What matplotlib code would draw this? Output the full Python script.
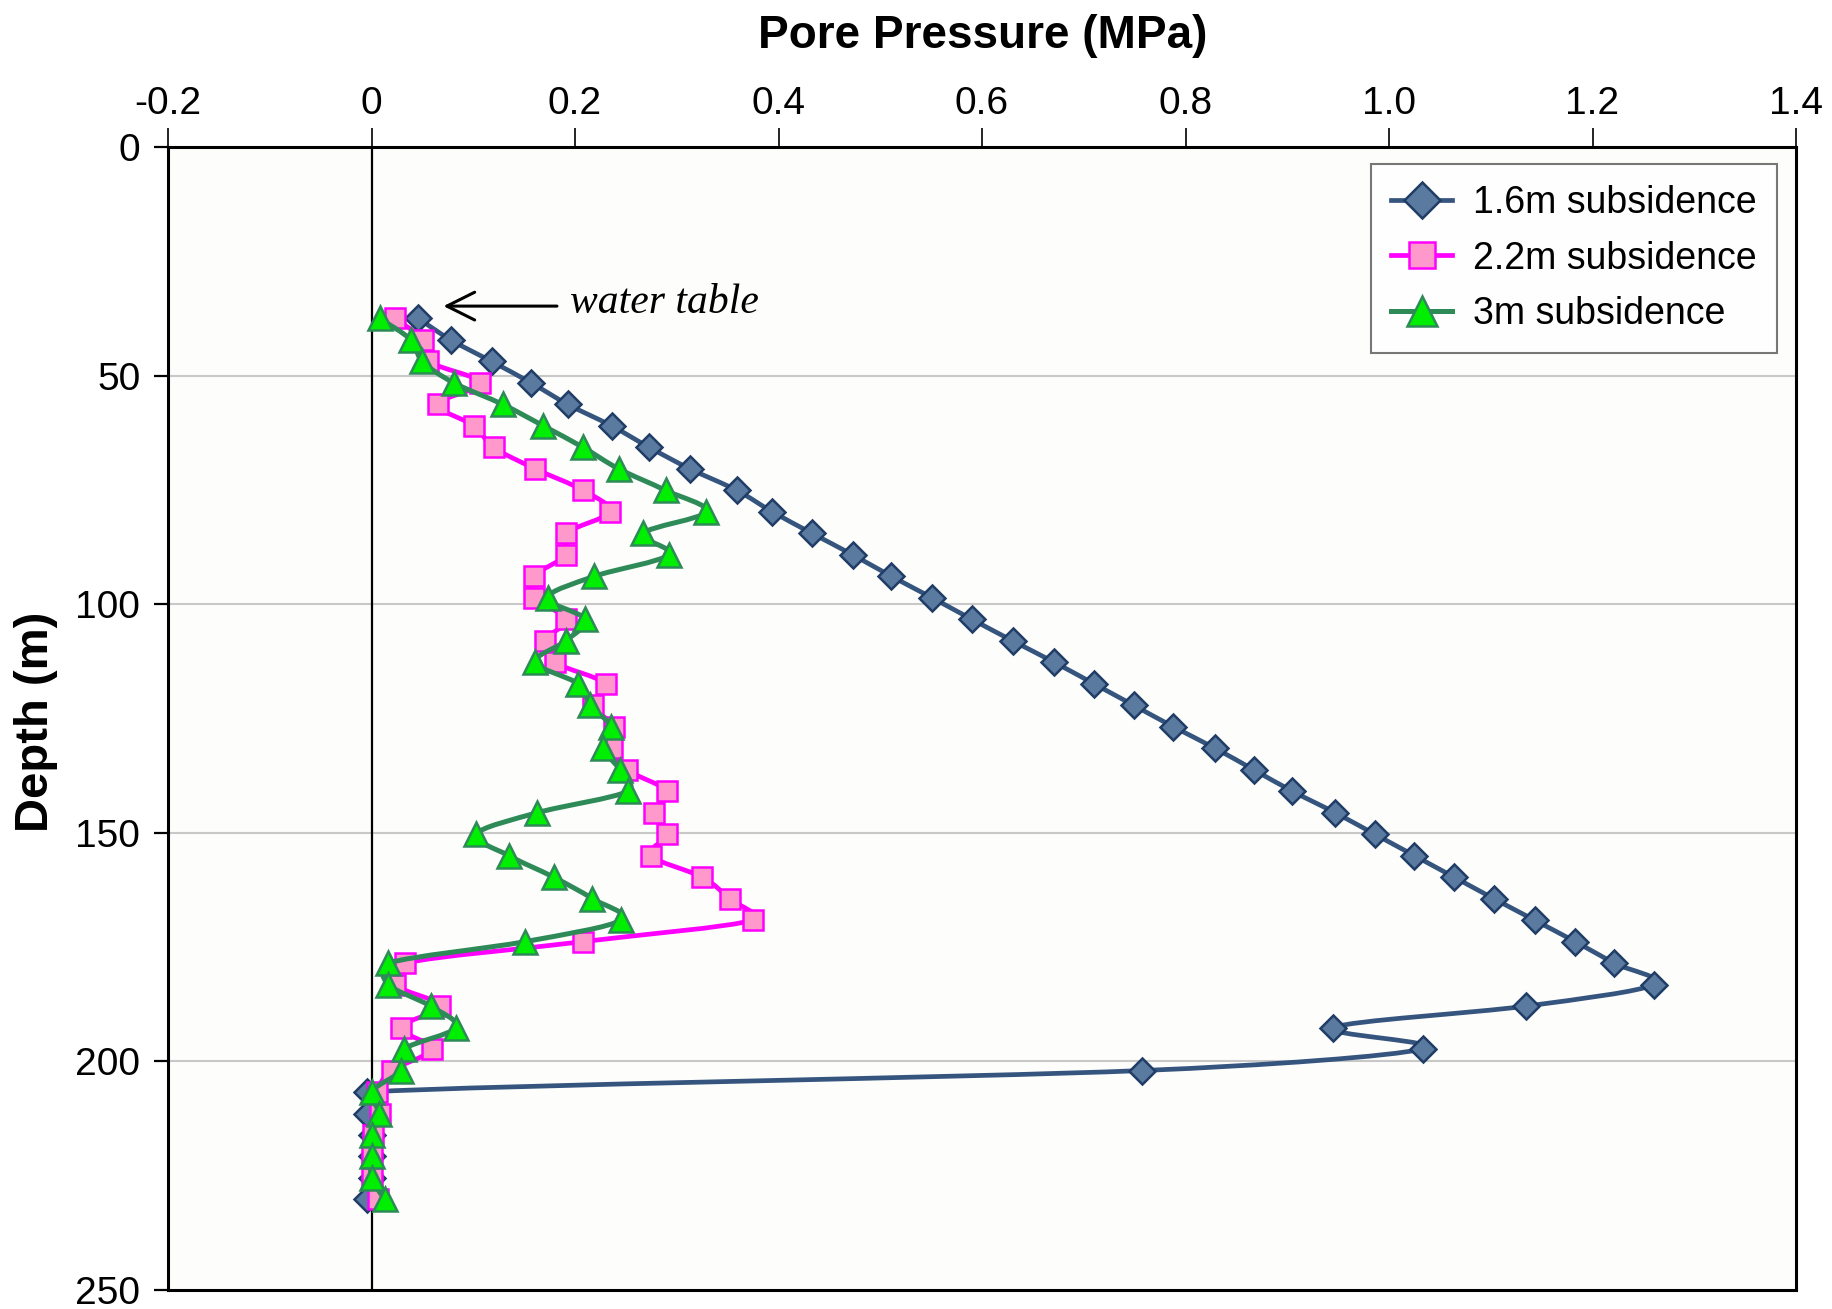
import numpy as np
import matplotlib
matplotlib.use("Agg")
import matplotlib.pyplot as plt
from matplotlib.path import Path
from matplotlib.patches import PathPatch
from matplotlib.lines import Line2D

DEPTH = [37.5, 42.2, 46.9, 51.6, 56.3, 61.0, 65.7, 70.4, 75.1, 79.8,
         84.5, 89.2, 93.9, 98.6, 103.3, 108.0, 112.7, 117.4, 122.1, 126.8,
         131.5, 136.2, 140.9, 145.6, 150.3, 155.0, 159.7, 164.4, 169.1, 173.8,
         178.5, 183.2, 187.9, 192.6, 197.3, 202.0, 206.7, 211.4, 216.1, 220.8,
         225.5, 230.2]

P_16 = [0.046, 0.078, 0.118, 0.157, 0.193, 0.236, 0.273, 0.313, 0.359, 0.394,
        0.433, 0.473, 0.511, 0.551, 0.590, 0.630, 0.671, 0.710, 0.749, 0.788,
        0.829, 0.867, 0.905, 0.947, 0.986, 1.025, 1.064, 1.103, 1.143, 1.183,
        1.221, 1.260, 1.135, 0.945, 1.033, 0.757, -0.004, -0.004, 0.0, 0.0,
        0.0, -0.004]

P_22 = [0.023, 0.051, 0.056, 0.107, 0.065, 0.101, 0.120, 0.161, 0.208, 0.234,
        0.191, 0.191, 0.160, 0.160, 0.191, 0.171, 0.180, 0.230, 0.218, 0.238,
        0.236, 0.251, 0.290, 0.278, 0.290, 0.275, 0.325, 0.352, 0.375, 0.208,
        0.033, 0.023, 0.067, 0.029, 0.059, 0.020, 0.005, 0.008, 0.001, 0.0,
        0.0, 0.006]

P_30 = [0.008, 0.039, 0.050, 0.081, 0.129, 0.169, 0.208, 0.243, 0.289, 0.329,
        0.267, 0.292, 0.219, 0.173, 0.210, 0.191, 0.161, 0.203, 0.215, 0.235,
        0.228, 0.244, 0.252, 0.163, 0.103, 0.135, 0.179, 0.217, 0.245, 0.151,
        0.0165, 0.0165, 0.058, 0.083, 0.032, 0.029, 0.0, 0.0075, 0.0, 0.0,
        0.0, 0.013]

LABELS = ["1.6m subsidence", "2.2m subsidence", "3m subsidence"]
XTICKS = [-0.2, 0, 0.2, 0.4, 0.6, 0.8, 1.0, 1.2, 1.4]
XTICKLABELS = ["-0.2", "0", "0.2", "0.4", "0.6", "0.8", "1.0", "1.2", "1.4"]
YTICKS = [0, 50, 100, 150, 200, 250]

SANS = ["Liberation Sans", "DejaVu Sans"]

# rough pixel scale of the axes, used only to shape the smoothing
PX_PER_X = 1628 / 1.6
PX_PER_Y = 1143 / 250.0


def smooth_path(x, y):
    # Excel-like smoothed line: Catmull-Rom tangents, capped by segment length
    # so short segments next to long jumps don't overshoot
    s = np.array([PX_PER_X, PX_PER_Y])
    pts = np.column_stack([x, y]) * s
    n = len(pts)
    verts = [pts[0]]
    codes = [Path.MOVETO]
    for i in range(n - 1):
        p0 = pts[max(i - 1, 0)]
        p1 = pts[i]
        p2 = pts[i + 1]
        p3 = pts[min(i + 2, n - 1)]
        seg = np.linalg.norm(p2 - p1)
        t1 = (p2 - p0) / 6.0
        t2 = (p3 - p1) / 6.0
        n1 = np.linalg.norm(t1)
        n2 = np.linalg.norm(t2)
        if n1 > 0.45 * seg:
            t1 = t1 / n1 * 0.45 * seg
        if n2 > 0.45 * seg:
            t2 = t2 / n2 * 0.45 * seg
        verts += [p1 + t1, p2 - t2, p2]
        codes += [Path.CURVE4] * 3
    return Path(np.array(verts) / s, codes)


def main():
    fig = plt.figure(figsize=(18.32, 13.09), dpi=100)
    ax = fig.add_axes([168 / 1832, 1 - 1290 / 1309, 1628 / 1832, 1143 / 1309])
    ax.set_facecolor("#fdfdfb")

    series = [
        (P_16, "#35557f", "D", "#5b7aa0", "#1f3d66", 13, 3.4),
        (P_22, "#ff00ff", "s", "#ff99cc", "#ff00ff", 14, 3.4),
        (P_30, "#2e8b57", "^", "#00ee00", "#2e8b57", 17, 3.6),
    ]
    handles = []
    for i, (vals, lc, mk, mfc, mec, ms, lw) in enumerate(series):
        path = smooth_path(vals, DEPTH)
        ax.add_patch(PathPatch(path, facecolor="none", edgecolor=lc, lw=lw,
                               zorder=3 + i * 2, capstyle="round"))
        ax.plot(vals, DEPTH, linestyle="none", marker=mk, markersize=ms,
                markerfacecolor=mfc, markeredgecolor=mec, markeredgewidth=1.8,
                zorder=4 + i * 2)
        handles.append(Line2D([], [], color=lc, lw=lw, marker=mk,
                              markersize=ms + 5, markerfacecolor=mfc,
                              markeredgecolor=mec, markeredgewidth=1.8))

    ax.set_xlim(-0.2, 1.4)
    ax.set_ylim(250, 0)
    ax.axvline(0, color="black", lw=1.6, zorder=2)
    for d in [50, 100, 150, 200]:
        ax.axhline(d, color="#c8c8c8", lw=1.5, zorder=1)

    ax.xaxis.tick_top()
    ax.set_xticks(XTICKS)
    ax.set_xticklabels(XTICKLABELS, family=SANS, fontsize=28)
    ax.set_yticks(YTICKS)
    ax.set_yticklabels([str(t) for t in YTICKS], family=SANS, fontsize=28)
    ax.tick_params(axis="x", direction="out", length=14, width=1.2, pad=4,
                   colors="black")
    ax.tick_params(axis="y", direction="out", length=10, width=1.6, pad=10)
    for s in ax.spines.values():
        s.set_linewidth(2.2)
        s.set_color("black")

    fig.text(983 / 1832, 1 - 36 / 1309, "Pore Pressure (MPa)", ha="center",
             va="center", fontsize=33, fontweight="bold", family=SANS)
    fig.text(36 / 1832, 1 - 722 / 1309, "Depth (m)", ha="center", va="center",
             rotation=90, fontsize=34, fontweight="bold", family=SANS)

    ax.annotate("", xy=(0.068, 34.8), xytext=(0.185, 34.8),
                arrowprops=dict(arrowstyle="->", color="black", lw=2.2,
                                mutation_scale=50))
    ax.text(0.195, 34, "water table", ha="left", va="center", fontsize=30,
            style="italic", family=["Liberation Serif", "DejaVu Serif"])

    leg = ax.legend(handles, LABELS, loc="upper right",
                    bbox_to_anchor=(0.9885, 0.9847), borderaxespad=0,
                    prop={"family": SANS, "size": 27},
                    frameon=True, fancybox=False, edgecolor="#555555",
                    handlelength=1.63, handletextpad=0.55, labelspacing=0.52,
                    borderpad=0.55)
    leg.get_frame().set_linewidth(1.5)
    leg.set_zorder(20)

    fig.savefig("out.png", dpi=100, facecolor="white")
    plt.close(fig)


if __name__ == "__main__":
    main()
